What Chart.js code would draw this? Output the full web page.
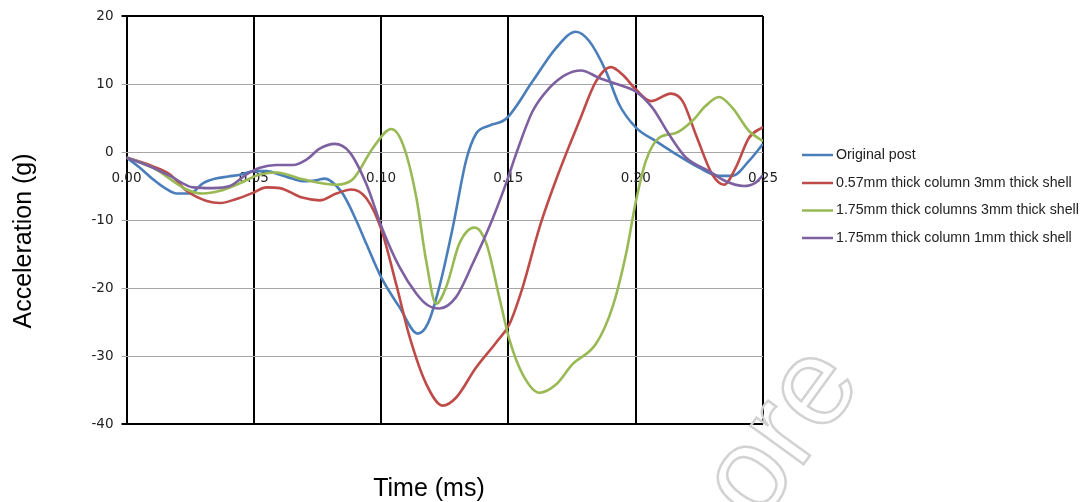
<!DOCTYPE html>
<html>
  <head>
    <title>Acceleration vs time</title>
    <script src="https://cdn.jsdelivr.net/npm/chart.js"></script>
    <style>
      body {
        margin: 0;
        background: #fff;
      }
      #wrap {
        width: 1084px;
        height: 502px;
      }
    </style>
  </head>
  <body>
    <div id="wrap">
      <canvas id="chart1" width="1084" height="502"></canvas>
    </div>

    <script>
      // data (time in ms, acceleration in g)
      const seriesNames = [
        "Original post",
        "0.57mm thick column 3mm thick shell",
        "1.75mm thick columns 3mm thick shell",
        "1.75mm thick column 1mm thick shell",
      ];
      const seriesColors = ["#4a7ebb", "#be4b48", "#98b954", "#7d60a0"];

      const blueTime = [0, 0.0049, 0.0104, 0.0151, 0.0198, 0.0249, 0.03, 0.035, 0.04, 0.045, 0.05, 0.055, 0.06, 0.065, 0.07, 0.075, 0.0778, 0.08, 0.0849, 0.0903, 0.0942, 0.1, 0.1072, 0.1144, 0.1184, 0.1229, 0.1282, 0.1334, 0.1373, 0.1425, 0.1491, 0.1595, 0.1687, 0.1765, 0.1818, 0.1883, 0.1935, 0.2001, 0.2079, 0.2158, 0.2249, 0.2327, 0.238, 0.2445, 0.25];
      const blueVal = [-0.8, -2.2, -4.0, -5.3, -6.1, -6.1, -4.6, -3.9, -3.6, -3.3, -2.8, -2.8, -3.3, -3.9, -4.3, -4.1, -3.9, -4.2, -6.1, -10.1, -13.5, -18.4, -22.8, -26.7, -25.2, -19.8, -11, -1.2, 2.7, 3.9, 4.9, 10.4, 15.3, 17.7, 16.3, 11.9, 7.0, 3.6, 1.6, -0.3, -2.3, -3.5, -3.5, -1.3, 1.2];

      const redTime = [0, 0.0104, 0.0171, 0.0236, 0.0315, 0.0367, 0.0432, 0.0496, 0.055, 0.0602, 0.069, 0.0759, 0.0824, 0.0883, 0.0942, 0.1, 0.1059, 0.1112, 0.1177, 0.1242, 0.1295, 0.1373, 0.1452, 0.1504, 0.1555, 0.1622, 0.17, 0.1779, 0.1844, 0.1903, 0.1948, 0.2001, 0.206, 0.2138, 0.2184, 0.2236, 0.2301, 0.2347, 0.2393, 0.2445, 0.25];
      const redVal = [-0.8, -2.1, -3.3, -5.7, -7.2, -7.5, -6.9, -6.0, -5.2, -5.3, -6.7, -7.1, -6.1, -5.5, -6.8, -11.3, -19.4, -27.2, -34.1, -37.3, -36.1, -31.7, -28.0, -25.3, -20.0, -11.1, -2.8, 4.6, 10.4, 12.5, 11.4, 9.2, 7.5, 8.6, 7.5, 2.6, -3.3, -4.8, -2.3, 2.1, 3.7];

      const greenTime = [0, 0.0104, 0.0236, 0.03, 0.0367, 0.0432, 0.0524, 0.0589, 0.0692, 0.0824, 0.0889, 0.0968, 0.104, 0.1085, 0.1138, 0.1177, 0.1216, 0.1256, 0.1308, 0.1367, 0.1413, 0.1465, 0.1504, 0.1556, 0.1622, 0.1687, 0.1752, 0.1844, 0.1909, 0.1962, 0.2001, 0.204, 0.2092, 0.2158, 0.2223, 0.2275, 0.2327, 0.238, 0.2445, 0.25];
      const greenVal = [-0.8, -2.3, -5.5, -6.1, -5.7, -4.8, -3.3, -3.0, -4.0, -4.8, -4.0, 0.6, 3.4, 1.2, -6.6, -16, -22.3, -19.8, -13.4, -11.1, -13.4, -21.5, -27.6, -32.7, -35.4, -34.2, -31.2, -28.2, -22.8, -15, -7.2, -1.3, 2.1, 2.8, 4.6, 6.8, 8.1, 6.5, 3.1, 1.6];

      const purpleTime = [0, 0.0104, 0.0171, 0.0262, 0.034, 0.0406, 0.0471, 0.0524, 0.0589, 0.0654, 0.0707, 0.0759, 0.0818, 0.0876, 0.0942, 0.1007, 0.1072, 0.1138, 0.1182, 0.1229, 0.1295, 0.136, 0.1425, 0.1491, 0.153, 0.1595, 0.166, 0.1726, 0.1785, 0.1857, 0.1935, 0.2001, 0.2066, 0.2131, 0.2197, 0.2288, 0.2354, 0.2425, 0.2471, 0.25];
      const purpleVal = [-0.8, -2.3, -3.5, -5.2, -5.3, -5.0, -3.3, -2.3, -1.9, -1.9, -1.1, 0.5, 1.2, 0.0, -4.7, -11.5, -16.9, -20.8, -22.5, -23.0, -21.3, -16.4, -11.0, -4.6, -0.3, 6.0, 9.4, 11.4, 12.0, 10.9, 9.9, 8.9, 6.5, 2.6, -0.8, -2.8, -4.3, -5.0, -4.5, -3.4];

      const xTicks = [0, 0.05, 0.1, 0.15, 0.2, 0.25];
      const yTicks = [-40, -30, -20, -10, 0, 10, 20];
      const xTitle = "Time (ms)";
      const yTitle = "Acceleration (g)";
      const watermark = "ore";

      const allTimes = [blueTime, redTime, greenTime, purpleTime];
      const allVals = [blueVal, redVal, greenVal, purpleVal];

      function toPoints(ts, vs) {
        return ts.map((t, i) => ({ x: t, y: vs[i] }));
      }

      // titles, legend and the grey watermark
      const extras = {
        id: "extras",
        afterDraw(chart) {
          const ctx = chart.ctx;
          ctx.save();
          ctx.fillStyle = "#000";
          ctx.font = '25px "Liberation Sans", Arial, sans-serif';
          ctx.textAlign = "center";
          ctx.textBaseline = "middle";
          ctx.fillText(xTitle, 429, 489);
          ctx.translate(24, 241);
          ctx.rotate(-Math.PI / 2);
          ctx.fillText(yTitle, 0, 0);
          ctx.restore();

          // legend
          ctx.save();
          ctx.font = '14px "Liberation Sans", Arial, sans-serif';
          const w = Math.max(...seriesNames.map((n) => ctx.measureText(n).width));
          const size = (14 * 243) / w;
          ctx.font = size.toFixed(2) + 'px "Liberation Sans", Arial, sans-serif';
          ctx.textBaseline = "middle";
          ctx.textAlign = "left";
          const rows = [155, 183, 210.5, 238];
          seriesNames.forEach((n, i) => {
            ctx.strokeStyle = seriesColors[i];
            ctx.lineWidth = 2.5;
            ctx.beginPath();
            ctx.moveTo(802, rows[i]);
            ctx.lineTo(833, rows[i]);
            ctx.stroke();
            ctx.fillStyle = "#222";
            ctx.fillText(n, 836, rows[i]);
          });
          ctx.restore();

          // watermark
          ctx.save();
          ctx.translate(758, 527);
          ctx.rotate((-54 * Math.PI) / 180);
          ctx.font = '124px "Liberation Sans", Arial, sans-serif';
          ctx.strokeStyle = "#d2d2d2";
          ctx.lineWidth = 2.5;
          ctx.strokeText(watermark, 0, 0);
          ctx.restore();
        },
      };

      const ctx1 = document.getElementById("chart1").getContext("2d");
      new Chart(ctx1, {
        type: "scatter",
        data: {
          datasets: seriesNames.map((name, i) => ({
            label: name,
            data: toPoints(allTimes[i], allVals[i]),
            showLine: true,
            borderColor: seriesColors[i],
            backgroundColor: seriesColors[i],
            borderWidth: 2.6,
            pointRadius: 0,
            cubicInterpolationMode: "monotone",
            order: 4 - i,
          })),
        },
        options: {
          responsive: false,
          devicePixelRatio: 1,
          animation: false,
          layout: { padding: { left: 0, top: 15, right: 321, bottom: 78 } },
          plugins: {
            legend: { display: false },
            tooltip: { enabled: false },
          },
          scales: {
            x: {
              type: "linear",
              position: { y: 0 },
              min: 0,
              max: 0.25,
              afterBuildTicks(scale) {
                scale.ticks = xTicks.map((v) => ({ value: v }));
              },
              grid: {
                color: "#000",
                lineWidth: 2,
                drawTicks: false,
              },
              border: { display: false },
              ticks: {
                padding: 18,
                maxRotation: 0,
                autoSkip: false,
                color: "#222",
                font: { family: '"DejaVu Sans", sans-serif', size: 13.5 },
                callback: (v) => Number(v).toFixed(2),
              },
            },
            y: {
              type: "linear",
              min: -40,
              max: 20,
              afterBuildTicks(scale) {
                scale.ticks = yTicks.map((v) => ({ value: v }));
              },
              afterFit(scale) {
                scale.width = 126.5;
              },
              grid: {
                color: (c) =>
                  c.tick && (c.tick.value === 20 || c.tick.value === -40) ? "#000" : "#a6a6a6",
                lineWidth: (c) =>
                  c.tick && (c.tick.value === 20 || c.tick.value === -40) ? 2 : 1,
                tickLength: 5,
              },
              border: { display: false },
              ticks: {
                padding: 8,
                color: "#222",
                font: { family: '"DejaVu Sans", sans-serif', size: 13.5 },
              },
            },
          },
        },
        plugins: [extras],
      });
    </script>
  </body>
</html>
